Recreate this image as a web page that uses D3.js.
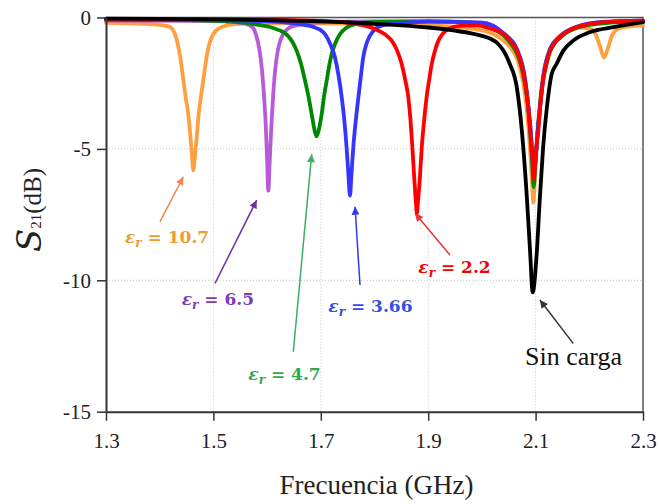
<!DOCTYPE html>
<html lang="es">
<head>
<meta charset="UTF-8"/>
<title>S21 vs frecuencia</title>
<script src="https://d3js.org/d3.v7.min.js"></script>
<style>
body { margin: 0; background: #fff; }
svg { display: block; }
.axis path { stroke: #333; stroke-width: 2; }
.axis line { stroke: #333; stroke-width: 1.5; }
.axis text { font-family: 'Liberation Serif', serif; font-size: 21px; fill: #222; }
.grid line { stroke: #c4c4c4; stroke-width: 1; stroke-dasharray: 1 2; }
.curve { fill: none; stroke-width: 3.8; stroke-linejoin: round; stroke-linecap: round; }
.note { font-family: 'DejaVu Serif', serif; font-weight: bold; font-size: 17px; white-space: pre; }
</style>
</head>
<body>
<svg width="659" height="504"></svg>
<script>
// tick values
const freqTicks = [1.3, 1.5, 1.7, 1.9, 2.1, 2.3];
const s21Ticks = [0, -5, -10, -15];

// S21 (dB), [GHz, dB]
const er107 = [
  [1.30,-0.20],[1.36,-0.23],[1.40,-0.28],[1.415,-0.33],[1.424,-0.45],[1.430,-0.72],[1.436,-1.25],
  [1.440,-1.75],[1.444,-2.40],[1.4485,-3.05],[1.4533,-3.70],[1.4575,-4.60],[1.4605,-5.35],[1.4626,-5.82],
  [1.4650,-5.40],[1.4685,-4.65],[1.4725,-3.70],[1.4765,-3.05],[1.481,-2.40],[1.4855,-1.75],[1.4895,-1.25],
  [1.4968,-0.75],[1.506,-0.48],[1.518,-0.34],[1.535,-0.26],[1.60,-0.22],[1.70,-0.22],[1.80,-0.25],
  [1.90,-0.30],[1.95,-0.36],[1.99,-0.45],[2.02,-0.62],[2.04,-0.88],[2.055,-1.20],[2.067,-1.65],
  [2.077,-2.50],[2.084,-3.60],[2.089,-4.80],[2.0935,-6.30],[2.0957,-7.05],[2.0985,-6.20],[2.103,-4.50],
  [2.108,-3.20],[2.114,-2.20],[2.124,-1.35],[2.14,-0.80],[2.16,-0.50],[2.18,-0.38],[2.20,-0.42],
  [2.212,-0.65],[2.22,-1.10],[2.2275,-1.52],[2.235,-1.15],[2.243,-0.65],[2.255,-0.42],[2.275,-0.34],[2.30,-0.30]
];
const er65 = [
  [1.30,-0.12],[1.45,-0.13],[1.52,-0.15],[1.55,-0.20],[1.565,-0.28],[1.574,-0.40],[1.580,-0.70],
  [1.5855,-1.20],[1.5905,-2.00],[1.594,-2.90],[1.5975,-4.10],[1.600,-5.40],[1.6023,-6.59],[1.605,-5.40],
  [1.608,-4.10],[1.6115,-2.90],[1.615,-2.00],[1.620,-1.25],[1.626,-0.80],[1.634,-0.52],[1.645,-0.35],
  [1.665,-0.25],[1.70,-0.18],[1.80,-0.15],[1.90,-0.15],[2.00,-0.20],[2.04,-0.60],[2.065,-1.20],
  [2.08,-2.30],[2.09,-4.10],[2.097,-5.80],[2.105,-4.10],[2.114,-2.30],[2.127,-1.20],[2.1455,-0.72],
  [2.1765,-0.35],[2.226,-0.17],[2.30,-0.12]
];
const er47 = [
  [1.30,-0.08],[1.45,-0.10],[1.52,-0.14],[1.568,-0.22],[1.590,-0.30],[1.6054,-0.36],[1.622,-0.48],
  [1.6365,-0.65],[1.647,-0.92],[1.655,-1.26],[1.663,-1.75],[1.6706,-2.40],[1.677,-3.00],[1.683,-3.67],
  [1.6885,-4.30],[1.6923,-4.52],[1.6965,-4.25],[1.7017,-3.67],[1.706,-3.00],[1.711,-2.40],[1.7155,-1.85],
  [1.7203,-1.39],[1.727,-0.98],[1.7358,-0.63],[1.747,-0.40],[1.7605,-0.27],[1.80,-0.17],[1.90,-0.15],
  [1.98,-0.20],[2.02,-0.42],[2.04,-0.68],[2.054,-1.00],[2.065,-1.35],[2.074,-1.90],[2.08,-2.50],
  [2.086,-3.40],[2.09,-4.40],[2.0935,-5.50],[2.0965,-6.45],[2.0995,-5.50],[2.1035,-4.40],[2.108,-3.40],
  [2.113,-2.50],[2.119,-1.90],[2.126,-1.35],[2.135,-1.00],[2.145,-0.78],[2.16,-0.55],[2.176,-0.40],
  [2.20,-0.28],[2.226,-0.22],[2.30,-0.15]
];
const er366 = [
  [1.30,-0.08],[1.50,-0.10],[1.60,-0.15],[1.65,-0.22],[1.675,-0.30],[1.689,-0.38],[1.70,-0.48],
  [1.7078,-0.63],[1.717,-0.98],[1.7264,-1.52],[1.733,-2.20],[1.739,-3.04],[1.744,-3.95],[1.748,-4.94],
  [1.7515,-6.00],[1.7544,-6.78],[1.757,-6.00],[1.7605,-4.94],[1.765,-3.95],[1.770,-3.04],[1.7745,-2.25],
  [1.779,-1.52],[1.785,-1.00],[1.7916,-0.69],[1.801,-0.44],[1.8134,-0.31],[1.84,-0.22],[1.90,-0.16],
  [2.00,-0.20],[2.04,-0.60],[2.065,-1.20],[2.08,-2.30],[2.09,-4.10],[2.097,-5.80],[2.105,-4.10],
  [2.114,-2.30],[2.127,-1.20],[2.1455,-0.72],[2.1765,-0.35],[2.226,-0.17],[2.30,-0.12]
];
const er22 = [
  [1.30,-0.05],[1.50,-0.07],[1.60,-0.09],[1.70,-0.13],[1.75,-0.20],[1.78,-0.30],[1.801,-0.44],
  [1.82,-0.65],[1.832,-0.88],[1.842,-1.25],[1.8506,-1.77],[1.857,-2.35],[1.863,-3.04],[1.867,-3.90],
  [1.8705,-4.94],[1.874,-6.10],[1.877,-7.00],[1.879,-7.45],[1.881,-7.00],[1.8845,-6.10],[1.888,-4.94],
  [1.8925,-3.90],[1.897,-3.04],[1.902,-2.35],[1.9066,-1.77],[1.912,-1.30],[1.919,-0.88],[1.927,-0.62],
  [1.9374,-0.44],[1.9624,-0.31],[1.99,-0.30],[2.015,-0.42],[2.04,-0.63],[2.055,-0.95],[2.065,-1.26],
  [2.073,-1.75],[2.08,-2.40],[2.086,-3.30],[2.09,-4.31],[2.094,-5.30],[2.097,-6.15],[2.100,-5.30],
  [2.105,-4.31],[2.109,-3.30],[2.114,-2.40],[2.12,-1.75],[2.127,-1.26],[2.135,-0.98],[2.1455,-0.75],
  [2.16,-0.52],[2.1765,-0.37],[2.20,-0.25],[2.226,-0.18],[2.26,-0.14],[2.30,-0.12]
];
const sinCarga = [
  [1.30,-0.04],[1.40,-0.05],[1.50,-0.07],[1.60,-0.10],[1.70,-0.15],[1.75,-0.18],[1.80,-0.24],
  [1.85,-0.30],[1.90,-0.38],[1.95,-0.50],[1.98,-0.60],[2.00,-0.70],[2.015,-0.80],[2.03,-1.00],
  [2.04,-1.26],[2.052,-1.77],[2.065,-2.66],[2.0744,-4.31],[2.0837,-6.84],[2.09,-9.00],[2.0945,-10.46],
  [2.102,-9.00],[2.108,-6.84],[2.114,-4.94],[2.121,-3.42],[2.13,-2.15],[2.139,-1.77],[2.1517,-1.26],
  [2.17,-0.88],[2.201,-0.56],[2.245,-0.37],[2.30,-0.18]
];

const seriesNames = ['10.7', '6.5', '4.7', '3.66', '2.2', 'Sin carga'];
const seriesData = [er107, er65, er47, er366, er22, sinCarga];
const seriesColors = ['#FFA040', '#B65CD8', '#008800', '#3535FF', '#FF0000', '#000000'];
const labelColors = ['#EE9A2E', '#7A3DB8', '#2DAA4F', '#3150E8', '#F00000', '#111111'];
const arrowColors = ['#F0884A', '#7030A0', '#3CB060', '#2F3BF0', '#F03030', '#333333'];

const svg = d3.select('svg');
const W = 659, H = 504;
const margin = {left: 106, right: 16, top: 17.5, bottom: 92.3};

const x = d3.scaleLinear().domain([1.3, 2.3]).range([margin.left, W - margin.right]);
const y = d3.scaleLinear().domain([-15, 0]).range([H - margin.bottom, margin.top]);

// faint dotted grid
const grid = svg.append('g').attr('class', 'grid');
grid.selectAll('.gx')
  .data(freqTicks.slice(1, -1))
  .enter().append('line')
  .attr('x1', d => x(d)).attr('x2', d => x(d))
  .attr('y1', y(0)).attr('y2', y(-15));
grid.selectAll('.gy')
  .data(s21Ticks.slice(1, -1))
  .enter().append('line')
  .attr('x1', x(1.3)).attr('x2', x(2.3))
  .attr('y1', d => y(d)).attr('y2', d => y(d));

// frame top / right
svg.append('path')
  .attr('d', `M${x(1.3)},${y(0)}H${x(2.3)}V${y(-15)}`)
  .attr('fill', 'none')
  .attr('stroke', '#555')
  .attr('stroke-width', 1.5);

// curves
const line = d3.line()
  .x(d => x(d[0]))
  .y(d => y(d[1]))
  .curve(d3.curveMonotoneX);

svg.append('g').selectAll('path')
  .data(seriesData)
  .enter().append('path')
  .attr('class', 'curve')
  .attr('stroke', (d, i) => seriesColors[i])
  .attr('d', line);

// axes
svg.append('g')
  .attr('class', 'axis')
  .attr('transform', `translate(0, ${y(-15)})`)
  .call(d3.axisBottom(x).tickValues(freqTicks).tickSize(9).tickPadding(12)
    .tickSizeOuter(0).tickFormat(d3.format('.1f')));

svg.append('g')
  .attr('class', 'axis')
  .attr('transform', `translate(${x(1.3)}, 0)`)
  .call(d3.axisLeft(y).tickValues(s21Ticks).tickSize(9).tickPadding(6)
    .tickSizeOuter(0).tickFormat(d => String(d)));

// arrow heads
const defs = svg.append('defs');
arrowColors.forEach((c, i) => {
  defs.append('marker')
    .attr('id', 'arrow' + i)
    .attr('viewBox', '0 0 10 10')
    .attr('refX', 10).attr('refY', 5)
    .attr('markerUnits', 'userSpaceOnUse')
    .attr('markerWidth', 9).attr('markerHeight', 8)
    .attr('orient', 'auto')
    .append('path')
    .attr('d', 'M0,0L10,5L0,10z')
    .attr('fill', c);
});

// annotations, in data units: text anchor, arrow start, arrow tip
const notePos = [
  {text: [1.3354, -8.58], from: [1.4006, -7.77], to: [1.4440, -6.06]},
  {text: [1.4410, -10.94], from: [1.5030, -10.12], to: [1.5806, -6.95]},
  {text: [1.5650, -13.80], from: [1.6488, -12.72], to: [1.6830, -5.20]},
  {text: [1.7140, -11.20], from: [1.7730, -10.18], to: [1.7637, -7.20]},
  {text: [1.8816, -9.74], from: [1.9406, -9.04], to: [1.8754, -7.45]},
  {text: [2.0803, -13.23], from: [2.1700, -12.40], to: [2.1080, -10.75]}
];

notePos.forEach((n, i) => {
  svg.append('line')
    .attr('x1', x(n.from[0])).attr('y1', y(n.from[1]))
    .attr('x2', x(n.to[0])).attr('y2', y(n.to[1]))
    .attr('stroke', arrowColors[i])
    .attr('stroke-width', 1.5)
    .attr('marker-end', `url(#arrow${i})`);

  const t = svg.append('text')
    .attr('x', x(n.text[0]))
    .attr('y', y(n.text[1]))
    .attr('fill', labelColors[i]);

  if (i === 5) {
    t.attr('font-family', "'Liberation Serif', serif")
      .attr('font-size', 26)
      .text(seriesNames[i]);
  } else {
    t.attr('class', 'note');
    t.append('tspan').style('font-style', 'italic').text('ε');
    t.append('tspan').style('font-style', 'italic').attr('font-size', 12).attr('dy', 4).text('r');
    t.append('tspan').attr('dy', -4).text(' = ' + seriesNames[i]);
  }
});

// axis titles
svg.append('text')
  .attr('x', (x(1.3) + x(2.3)) / 2 + 2)
  .attr('y', 494)
  .attr('text-anchor', 'middle')
  .attr('font-family', "'Liberation Serif', serif")
  .attr('font-size', 27)
  .attr('fill', '#222')
  .text('Frecuencia (GHz)');

const yt = svg.append('text')
  .attr('transform', 'translate(41, 252) rotate(-90)')
  .attr('fill', '#222');
yt.append('tspan')
  .attr('font-family', "'DejaVu Serif', serif")
  .attr('font-style', 'italic')
  .attr('font-size', 34)
  .text('S');
yt.append('tspan')
  .attr('font-family', "'Liberation Serif', serif")
  .attr('font-size', 15)
  .text('21');
yt.append('tspan')
  .attr('font-family', "'Liberation Serif', serif")
  .attr('font-size', 25)
  .text('(dB)');
</script>
</body>
</html>
